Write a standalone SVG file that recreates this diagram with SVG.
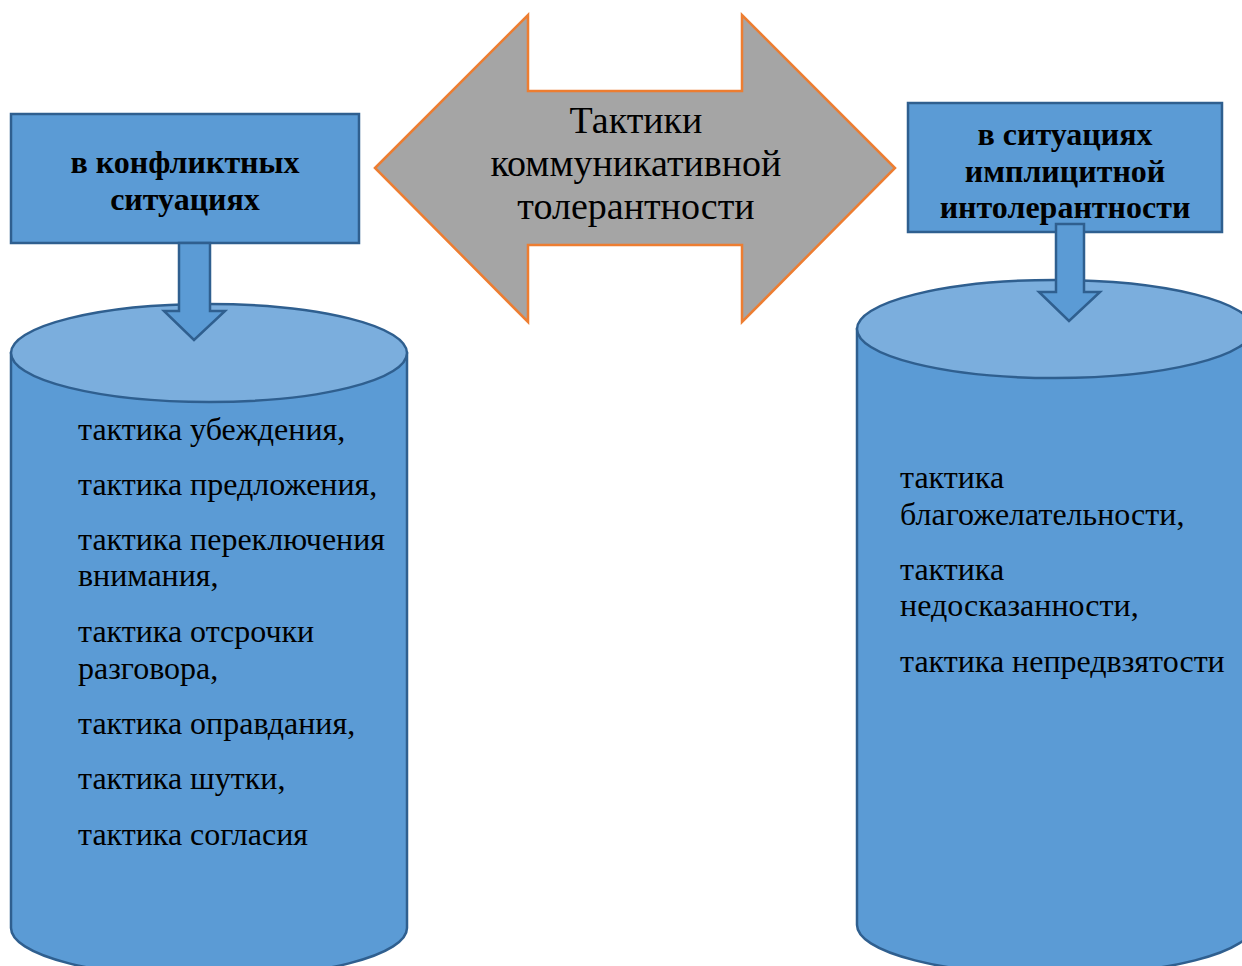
<svg xmlns="http://www.w3.org/2000/svg" width="1242" height="966" viewBox="0 0 1242 966">
<style>
.box{fill:#5B9BD5;stroke:#2F5F8F;stroke-width:2.5}
.cyl{fill:#5B9BD5;stroke:#2F5F8F;stroke-width:2.5}
.top{fill:#7BAEDD;stroke:#2F5F8F;stroke-width:2.5}
.arr{fill:#5B9BD5;stroke:#2F5F8F;stroke-width:2.5}
.big{fill:#A5A5A5;stroke:#ED7D31;stroke-width:2.5}
.t{font-family:"Liberation Serif","Times New Roman",serif;fill:#000}
.h{font-size:32px;font-weight:bold;text-anchor:middle}
.c{font-size:38px;text-anchor:middle}
.l{font-size:32px}
</style>
<rect width="1242" height="966" fill="#fff"/>
<g id="central-arrow">
<polygon class="big" points="375,168 528,15 528,91 742,91 742,15 895,168 742,322 742,245 528,245 528,322"/>
<text class="t c" x="636" y="133">Тактики</text>
<text class="t c" x="636" y="176">коммуникативной</text>
<text class="t c" x="636" y="219">толерантности</text>
</g>
<g id="left-cylinder">
<path class="cyl" d="M11,353 L11,928 A198,50 0 0 0 407,928 L407,353 Z"/>
<ellipse class="top" cx="209" cy="353" rx="198" ry="49"/>
<text class="t l" x="78" y="440">тактика убеждения,</text>
<text class="t l" x="78" y="495">тактика предложения,</text>
<text class="t l" x="78" y="550">тактика переключения</text>
<text class="t l" x="78" y="586">внимания,</text>
<text class="t l" x="78" y="642">тактика отсрочки</text>
<text class="t l" x="78" y="679">разговора,</text>
<text class="t l" x="78" y="734">тактика оправдания,</text>
<text class="t l" x="78" y="789">тактика шутки,</text>
<text class="t l" x="78" y="845">тактика согласия</text>
</g>
<g id="right-cylinder">
<path class="cyl" d="M857,329 L857,925 A198,50 0 0 0 1253,925 L1253,329 Z"/>
<ellipse class="top" cx="1055" cy="329" rx="198" ry="49"/>
<text class="t l" x="900" y="488">тактика</text>
<text class="t l" x="900" y="525">благожелательности,</text>
<text class="t l" x="900" y="580">тактика</text>
<text class="t l" x="900" y="616">недосказанности,</text>
<text class="t l" x="900" y="672">тактика непредвзятости</text>
</g>
<g id="left-box">
<rect class="box" x="11" y="114" width="348" height="129"/>
<text class="t h" x="185" y="173">в конфликтных</text>
<text class="t h" x="185" y="210">ситуациях</text>
</g>
<g id="right-box">
<rect class="box" x="908" y="103" width="314" height="129"/>
<text class="t h" x="1065" y="145">в ситуациях</text>
<text class="t h" x="1065" y="182">имплицитной</text>
<text class="t h" x="1065" y="218">интолерантности</text>
</g>
<g id="connectors">
<polygon class="arr" points="179,243 210,243 210,311 225,311 194,340 164,311 179,311"/>
<polygon class="arr" points="1056,224 1084,224 1084,292 1100,292 1069,321 1039,292 1056,292"/>
</g>
</svg>
